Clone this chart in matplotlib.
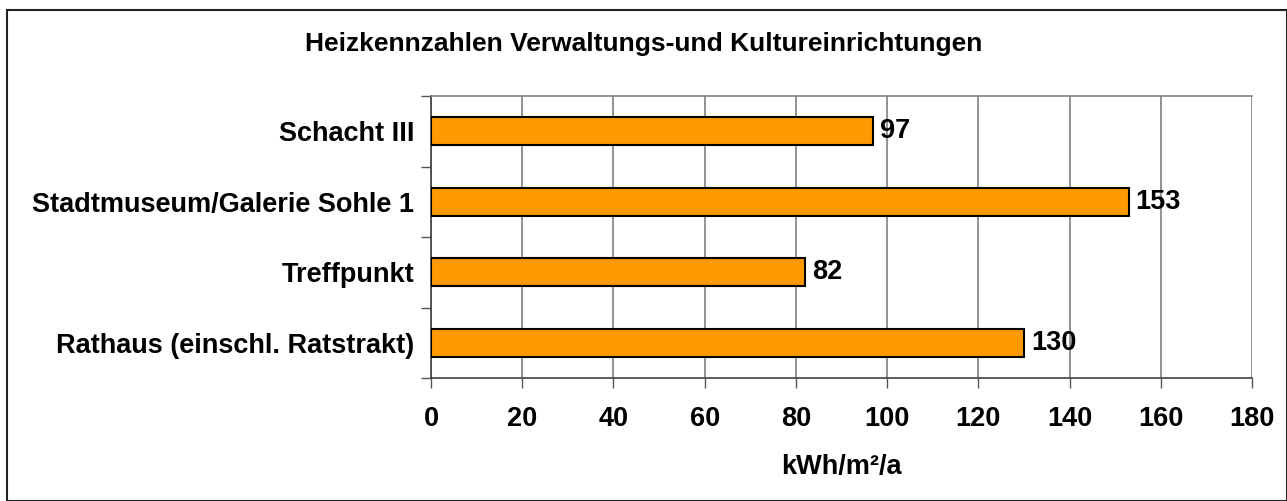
import numpy as np
import matplotlib.pyplot as plt
from matplotlib.patches import Rectangle

# Heizkennzahlen, top to bottom as in chart
categories = ["Schacht III", "Stadtmuseum/Galerie Sohle 1", "Treffpunkt", "Rathaus (einschl. Ratstrakt)"]
values = [97, 153, 82, 130]

plt.rcParams['font.family'] = ['Liberation Sans', 'DejaVu Sans']
plt.rcParams['font.weight'] = 'bold'
FS = 19.5

fig = plt.figure(figsize=(12.87, 5.01), dpi=100)
ax = fig.add_axes([431/1287, 1-378/501, (1252-431)/1287, (378-96)/501])

y = np.arange(len(categories))[::-1]
ax.barh(y, values, height=0.4, color="#FF9900", edgecolor="black", linewidth=1.5, zorder=3)

for yi, v in zip(y, values):
    ax.text(v + 1.5, yi, str(v), va="center", ha="left", fontsize=FS, fontweight="bold")

ax.set_xlim(0, 180)
ax.set_ylim(-0.5, len(categories) - 0.5)
ax.set_xticks(np.arange(0, 181, 20))
ax.set_yticks(y)
ax.set_yticklabels(categories, fontsize=FS, fontweight="bold")
ax.set_yticks(np.arange(-0.5, len(categories), 1.0), minor=True)
ax.tick_params(axis="y", which="major", length=0, pad=12)
ax.tick_params(axis="y", which="minor", length=7, width=1, color="#555555")
ax.tick_params(axis="x", length=7, width=1, color="#555555", labelsize=FS, pad=13)
for lab in ax.get_xticklabels():
    lab.set_fontweight("bold")

ax.grid(axis="x", color="#808080", linewidth=1.2, zorder=0)
ax.spines["right"].set_visible(False)
ax.spines["top"].set_color("#808080")
ax.spines["top"].set_linewidth(1.2)
ax.spines["left"].set_color("#404040")
ax.spines["bottom"].set_color("#404040")
ax.spines["left"].set_linewidth(1.2)
ax.spines["bottom"].set_linewidth(1.2)

ax.set_xlabel("kWh/m²/a", fontsize=FS, fontweight="bold", labelpad=16)
fig.text(0.5, 1-44/501, "Heizkennzahlen Verwaltungs-und Kultureinrichtungen",
         ha="center", va="center", fontsize=19, fontweight="bold")

# outer chart frame
fig.patches.append(Rectangle((7/1287, 0), 1 - 7/1287, 1 - 10/501, transform=fig.transFigure,
                             fill=False, edgecolor="#222222", linewidth=1.5))

fig.savefig("out.png", dpi=100)
